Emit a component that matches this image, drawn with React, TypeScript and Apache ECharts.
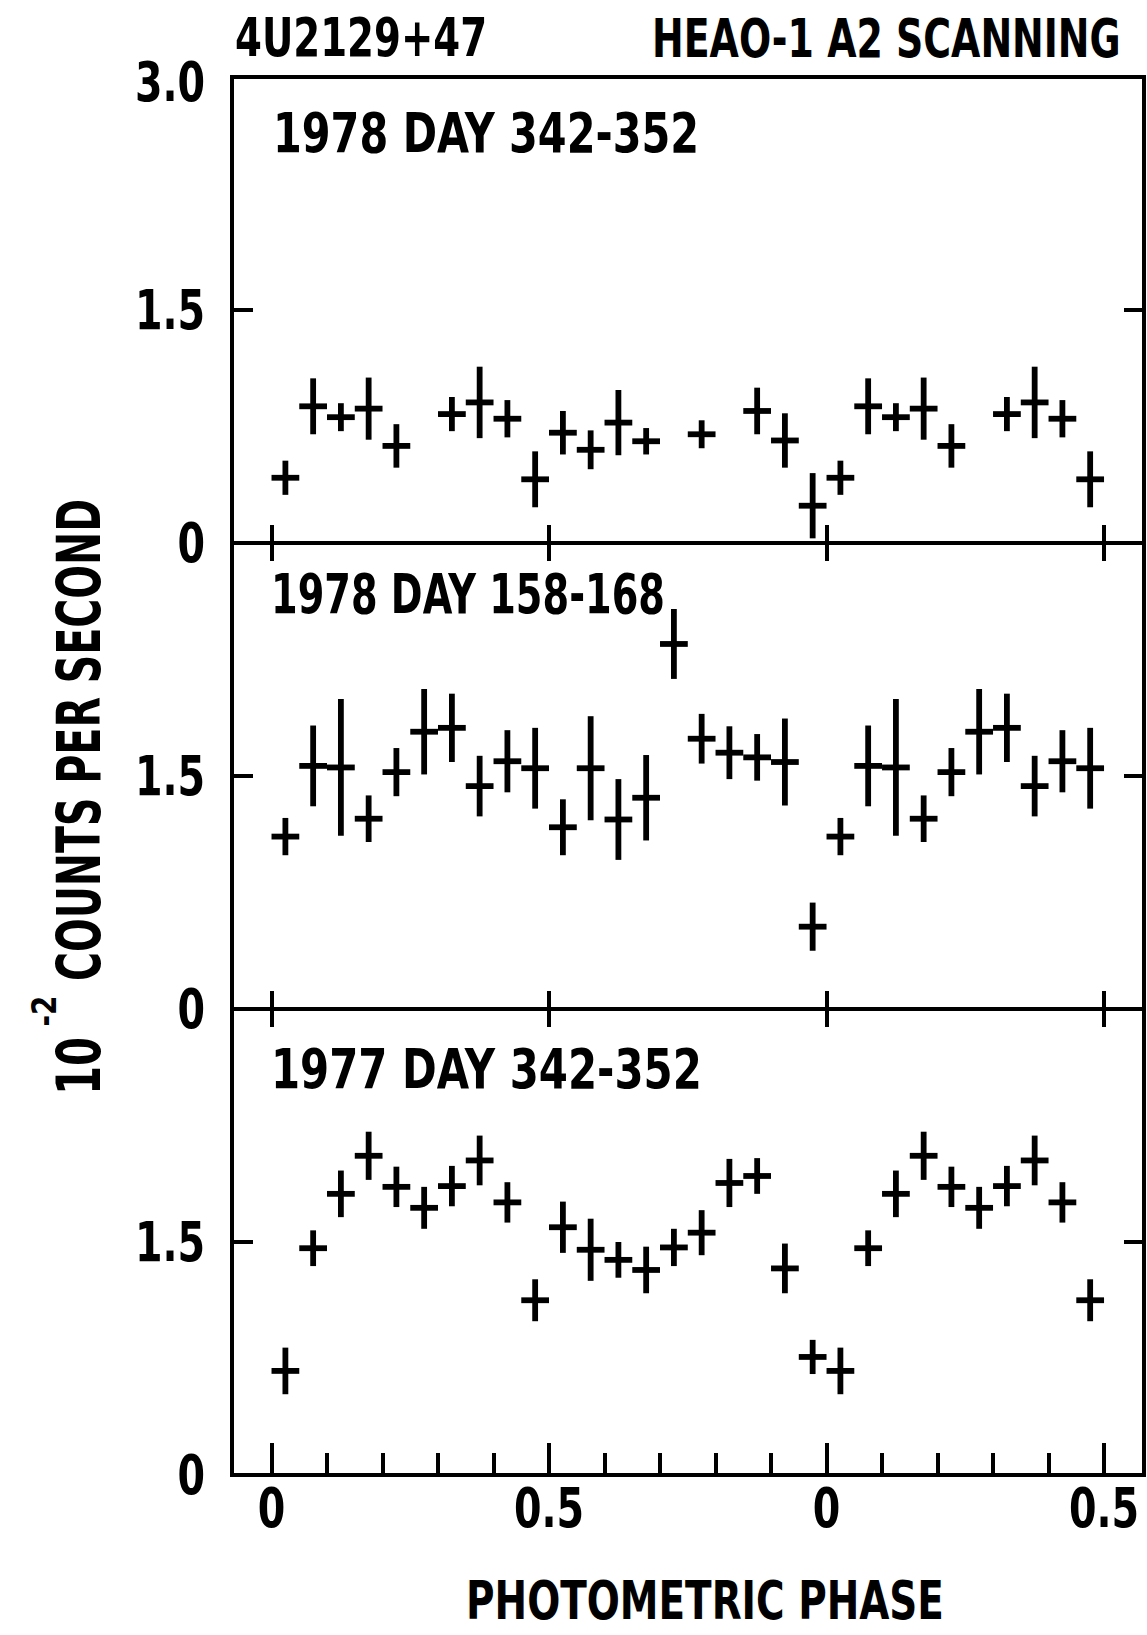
import React, { useEffect, useRef } from "react";
import * as echarts from "echarts";

// Phase-bin centres (bin width 0.05)
const PHASE = [
  0.025, 0.075, 0.125, 0.175, 0.225, 0.275, 0.325, 0.375, 0.425, 0.475,
  0.525, 0.575, 0.625, 0.675, 0.725, 0.775, 0.825, 0.875, 0.925, 0.975,
];

// 1978 day 342-352 (10^-2 counts/s), null = no data in bin
const RATE_1978_342 = [
  0.42, 0.88, 0.81, 0.865, 0.625, null, 0.83, 0.905, 0.8, 0.41,
  0.71, 0.6, 0.775, 0.655, null, 0.7, null, 0.85, 0.66, 0.24,
];
const ERR_1978_342 = [
  0.11, 0.18, 0.09, 0.2, 0.14, null, 0.11, 0.23, 0.12, 0.18,
  0.14, 0.125, 0.21, 0.085, null, 0.09, null, 0.15, 0.175, 0.21,
];

// 1978 day 158-168
const RATE_1978_158 = [
  1.11, 1.565, 1.555, 1.225, 1.525, 1.785, 1.81, 1.435, 1.595, 1.55,
  1.17, 1.55, 1.22, 1.36, 2.35, 1.74, 1.65, 1.62, 1.59, 0.53,
];
const ERR_1978_158 = [
  0.12, 0.26, 0.44, 0.15, 0.155, 0.275, 0.22, 0.195, 0.2, 0.26,
  0.18, 0.335, 0.26, 0.275, 0.225, 0.16, 0.17, 0.15, 0.28, 0.155,
];

// 1977 day 342-352
const RATE_1977_342 = [
  0.67, 1.46, 1.81, 2.055, 1.855, 1.72, 1.86, 2.025, 1.755, 1.125,
  1.595, 1.45, 1.385, 1.32, 1.465, 1.56, 1.88, 1.925, 1.33, 0.76,
];
const ERR_1977_342 = [
  0.15, 0.115, 0.15, 0.155, 0.13, 0.135, 0.13, 0.16, 0.13, 0.135,
  0.165, 0.2, 0.115, 0.15, 0.12, 0.145, 0.155, 0.115, 0.16, 0.11,
];

const PANEL_TITLES = ["1978 DAY 342-352", "1978 DAY 158-168", "1977 DAY 342-352"];
const PANEL_RATES = [RATE_1978_342, RATE_1978_158, RATE_1977_342];
const PANEL_ERRS = [ERR_1978_342, ERR_1978_158, ERR_1977_342];

const X_MAJOR_TICKS = [0, 0.5, 1, 1.5];
const X_TICK_LABELS = ["0", "0.5", "0", "0.5"];
const X_MINOR_TICKS = [0.1, 0.2, 0.3, 0.4, 0.6, 0.7, 0.8, 0.9, 1.1, 1.2, 1.3, 1.4];
const Y_TICKS = [1.5];
const Y_LABEL_VALUES = [
  [0, 1.5, 3],
  [0, 1.5],
  [0, 1.5],
];
const Y_LABEL_TEXT: Record<string, string> = { "0": "0", "1.5": "1.5", "3": "3.0" };

const SOURCE = "4U2129+47";
const INSTRUMENT = "HEAO-1 A2 SCANNING";
const X_TITLE = "PHOTOMETRIC PHASE";
const Y_TITLE_BASE = "10";
const Y_TITLE_EXP = "-2";
const Y_TITLE_REST = "COUNTS PER SECOND";

// Layout (px)
const W = 1147;
const H = 1635;
const PLOT_LEFT = 232;
const PLOT_RIGHT = 1144;
const PANEL_TOPS = [77, 543, 1009];
const PANEL_H = 466;
const X_MIN = -0.0712;
const X_MAX = 1.572;
const BIN_HALF = 0.025;
const TICK_FONT = 55;
const TICK_SQUEEZE = 0.8;

const FONT = "'Liberation Sans Narrow', 'DejaVu Sans Condensed', sans-serif";
const INK = "#000";

let measureCtx: CanvasRenderingContext2D | null = null;
function textWidth(text: string, size: number): number {
  if (!measureCtx) measureCtx = document.createElement("canvas").getContext("2d");
  if (!measureCtx) return text.length * size * 0.5;
  measureCtx.font = `bold ${size}px ${FONT}`;
  return measureCtx.measureText(text).width;
}

// Bold lettering, squeezed horizontally by sx about its anchor point.
function letters(
  text: string,
  x: number,
  y: number,
  size: number,
  sx: number,
  align: "left" | "center" | "right" = "left",
  rotation = 0
) {
  return {
    type: "text",
    x,
    y,
    rotation,
    scaleX: sx,
    silent: true,
    style: {
      text,
      x: 0,
      y: 0,
      fill: INK,
      fontSize: size,
      fontWeight: "bold",
      fontFamily: FONT,
      align,
      textAlign: align,
      verticalAlign: "middle",
      textVerticalAlign: "middle",
    },
  };
}

// Same, with the squeeze chosen so the text spans a given width.
function fitted(
  text: string,
  x: number,
  y: number,
  size: number,
  width: number,
  align: "left" | "center" | "right" = "left",
  rotation = 0
) {
  return letters(text, x, y, size, width / textWidth(text, size), align, rotation);
}

// Phase-folded points: the first half cycle is shown again after phase 1.
function folded(rates: (number | null)[], errs: (number | null)[]) {
  const out: number[][] = [];
  PHASE.forEach((p, i) => {
    const v = rates[i];
    const e = errs[i];
    if (v == null || e == null) return;
    out.push([p, v, e]);
    if (p < 0.5) out.push([p + 1, v, e]);
  });
  return out;
}

function renderCross(params: any, api: any) {
  const x = api.value(0);
  const y = api.value(1);
  const e = api.value(2);
  const l = api.coord([x - BIN_HALF, y]);
  const r = api.coord([x + BIN_HALF, y]);
  const t = api.coord([x, y + e]);
  const b = api.coord([x, y - e]);
  const style = { stroke: INK, lineWidth: 5.8, lineCap: "butt" };
  return {
    type: "group",
    children: [
      { type: "line", shape: { x1: l[0], y1: l[1], x2: r[0], y2: r[1] }, style },
      { type: "line", shape: { x1: t[0], y1: t[1], x2: b[0], y2: b[1] }, style },
    ],
  };
}

function xAxisTicks(gridIndex: number, position: "top" | "bottom", values: number[], length: number) {
  return {
    type: "value",
    gridIndex,
    position,
    min: X_MIN,
    max: X_MAX,
    axisLine: { show: false, onZero: false },
    splitLine: { show: false },
    axisTick: {
      show: true,
      inside: true,
      length,
      customValues: values,
      lineStyle: { color: INK, width: 4 },
    },
    axisLabel: { show: false },
  };
}

function yAxisTicks(gridIndex: number, position: "left" | "right", length: number) {
  return {
    type: "value",
    gridIndex,
    position,
    min: 0,
    max: 3,
    axisLine: { show: false, onZero: false },
    splitLine: { show: false },
    axisTick: {
      show: true,
      inside: true,
      length,
      customValues: Y_TICKS,
      lineStyle: { color: INK, width: 4 },
    },
    axisLabel: { show: false },
  };
}

const X_INDEX_FOR_PANEL = [0, 1, 3];
const X_LABEL_AXIS = 3;

function buildOption() {
  const grid = PANEL_TOPS.map((top) => ({
    left: PLOT_LEFT,
    top,
    width: PLOT_RIGHT - PLOT_LEFT,
    height: PANEL_H,
    show: true,
    borderColor: INK,
    borderWidth: 4,
    containLabel: false,
  }));

  const xAxis = [
    xAxisTicks(0, "bottom", X_MAJOR_TICKS, 18), // 0
    xAxisTicks(1, "bottom", X_MAJOR_TICKS, 18), // 1
    xAxisTicks(1, "top", X_MAJOR_TICKS, 18), // 2
    xAxisTicks(2, "bottom", X_MAJOR_TICKS, 32), // 3
    xAxisTicks(2, "top", X_MAJOR_TICKS, 18), // 4
    xAxisTicks(2, "bottom", X_MINOR_TICKS, 22), // 5
  ];

  const yAxis = [
    yAxisTicks(0, "left", 21),
    yAxisTicks(1, "left", 21),
    yAxisTicks(2, "left", 21),
    yAxisTicks(0, "right", 20),
    yAxisTicks(1, "right", 20),
    yAxisTicks(2, "right", 20),
  ];

  const series = PANEL_RATES.map((rates, i) => ({
    type: "custom",
    name: PANEL_TITLES[i],
    xAxisIndex: X_INDEX_FOR_PANEL[i],
    yAxisIndex: i,
    renderItem: renderCross,
    encode: { x: 0, y: 1 },
    data: folded(rates, PANEL_ERRS[i]),
    silent: true,
    clip: false,
  }));

  return {
    animation: false,
    backgroundColor: "#fff",
    grid,
    xAxis,
    yAxis,
    series,
  };
}

// Titles plus tick labels placed through the axes' own value-to-pixel mapping.
function buildGraphics(chart: echarts.ECharts) {
  const items: any[] = [
    fitted(SOURCE, 235, 38, 54, 252),
    fitted(INSTRUMENT, 652, 38, 54, 469),
    fitted(PANEL_TITLES[0], 273, 133, 55, 426),
    fitted(PANEL_TITLES[1], 271, 594, 55, 394),
    fitted(PANEL_TITLES[2], 271, 1069, 55, 431),
    fitted(X_TITLE, 705, 1600, 53, 478, "center"),
    fitted(Y_TITLE_REST, 79, 740, 60, 482, "center", Math.PI / 2),
    fitted(Y_TITLE_BASE, 79, 1066, 60, 58, "center", Math.PI / 2),
    fitted(Y_TITLE_EXP, 45, 1011, 33, 31, "center", Math.PI / 2),
  ];

  Y_LABEL_VALUES.forEach((values, i) => {
    values.forEach((v) => {
      const py = chart.convertToPixel({ yAxisIndex: i } as any, v) as unknown as number;
      const dy = v === 3 ? 5 : 0;
      items.push(letters(Y_LABEL_TEXT[String(v)], PLOT_LEFT - 27, py + dy, TICK_FONT, TICK_SQUEEZE, "right"));
    });
  });

  const axisY = chart.convertToPixel({ yAxisIndex: 2 } as any, 0) as unknown as number;
  X_MAJOR_TICKS.forEach((v, k) => {
    const px = chart.convertToPixel({ xAxisIndex: X_LABEL_AXIS } as any, v) as unknown as number;
    items.push(letters(X_TICK_LABELS[k], px, axisY + 33, TICK_FONT, TICK_SQUEEZE, "center"));
  });

  return items;
}

export default function App() {
  const ref = useRef<HTMLDivElement>(null);
  useEffect(() => {
    if (!ref.current) return;
    const chart = echarts.init(ref.current, undefined, { renderer: "svg", width: W, height: H });
    chart.setOption(buildOption() as any);
    chart.setOption({ graphic: buildGraphics(chart) } as any);
    return () => chart.dispose();
  }, []);
  return (
    <div
      ref={ref}
      style={{ position: "absolute", left: 0, top: 0, width: W, height: H, background: "#fff" }}
    />
  );
}
